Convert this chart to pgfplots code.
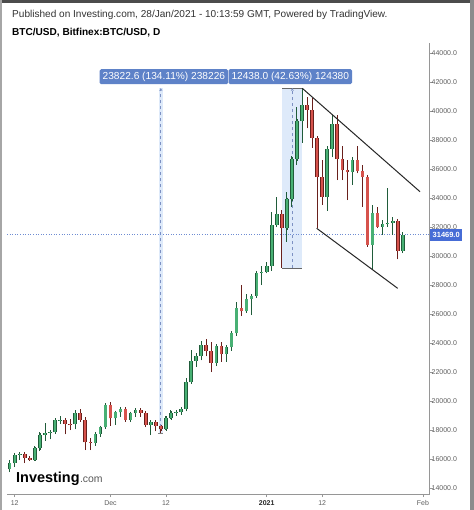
\documentclass[border=0pt]{standalone}
\usepackage{pgfplots}
\pgfplotsset{compat=1.18}
\usepackage{pgfplotstable}
\usepackage{fontspec}
\setmainfont{Liberation Sans}
\usetikzlibrary{arrows.meta}

\definecolor{gfill}{RGB}{72,176,116}
\definecolor{gline}{RGB}{32,92,58}
\definecolor{rfill}{RGB}{214,82,76}
\definecolor{rline}{RGB}{105,32,28}
\definecolor{boxblue}{RGB}{94,130,200}
\definecolor{pricecol}{RGB}{70,108,214}
\definecolor{pricedot}{RGB}{110,140,210}
\definecolor{measfill}{RGB}{222,234,250}
\definecolor{measline}{RGB}{125,145,195}
\definecolor{axcol}{RGB}{150,150,150}
\definecolor{labcol}{RGB}{95,95,95}
\definecolor{hdrcol}{RGB}{51,51,51}

\pgfplotstableread{
d o h l c
-1 15290 15960 15100 15700
0 15700 16350 15440 16300
1 16300 16480 15960 16330
4 15960 16880 15870 16730
5 16730 17860 16550 17660
6 17660 18480 17250 17800
7 17800 18000 17350 17840
8 17840 18800 17760 18680
9 18680 18960 18400 18710
12 18380 19400 18050 19150
16 17130 17880 16900 17730
17 17730 18300 17550 18180
18 18180 19860 18180 19700
20 18800 19300 18350 19220
21 19220 19580 18900 19450
23 18680 19170 18550 19150
24 19150 19420 18900 19370
27 18340 18630 17650 18560
30 18040 18950 18000 18810
31 18810 19400 18730 19160
32 19160 19350 19000 19240
33 19240 19570 19050 19450
34 19450 21560 19290 21300
35 21300 23500 21230 22780
36 22780 23290 22350 23100
37 23100 24170 22800 23860
40 22650 23840 22400 23800
42 23240 23790 22700 23720
43 23720 24780 23450 24680
44 24680 26860 24500 26400
46 26180 27400 26100 27020
47 27020 27400 25930 27250
48 27250 28990 27250 28850
49 28850 29300 28000 28930
50 28930 29600 28800 29310
51 29310 33060 29000 32140
52 32140 34090 32000 32900
54 31910 34400 30990 33910
55 33910 36900 33400 36690
56 36690 40300 36300 39310
57 39310 41586 37800 40380
62 34070 37600 33120 37380
63 37380 39750 36800 39100
67 35790 36800 34900 36620
71 30760 33520 29080 32990
73 32030 32480 31450 32190
74 32190 34670 32030 32260
75 32260 32670 31450 32430
77 30370 31680 30200 31469
}\greentab

\pgfplotstableread{
d o h l c
2 16330 16340 15720 16080
3 16080 16150 15860 15960
10 18710 18720 17700 18420
11 18420 18750 18000 18380
13 19150 19480 18580 18720
14 18720 18900 16620 17150
15 17150 17450 16620 17130
19 19700 19920 18300 18800
22 19450 19500 18600 18680
25 19370 19420 18900 19180
26 19180 19280 18200 18340
28 18560 18570 17900 18250
29 18250 18280 17763 18040
38 23860 24280 23070 23450
39 23450 24100 22000 22650
41 23800 24100 22700 23240
45 26400 28000 25850 26180
53 32900 33200 29180 31910
58 40380 41000 38800 40070
59 40070 40900 37450 38140
60 38140 38300 31910 35450
61 35450 36600 33520 34070
64 39100 39700 35240 36690
65 36690 37590 35240 35930
66 35930 36620 33860 35790
68 36620 37590 35700 35860
69 35860 36300 33400 35470
70 35470 35600 30700 30760
72 32990 33400 31900 32030
76 32430 32500 29770 30370
}\redtab

\begin{document}
\begin{tikzpicture}
\useasboundingbox (0bp,0bp) rectangle (474bp,-510bp);
\fill[white] (0bp,0bp) rectangle (474bp,-510bp);

\node[anchor=west, inner sep=0, text=hdrcol, font=\fontsize{10.1}{12}\selectfont] at (12bp,-15bp) {Published on Investing.com, 28/Jan/2021 - 10:13:59 GMT, Powered by TradingView.};
\node[anchor=west, inner sep=0, text=black, font=\fontsize{10.1}{12}\selectfont\bfseries] at (12bp,-32.5bp) {BTC/USD, Bitfinex:BTC/USD, D};

\begin{axis}[
  at={(7bp,-494bp)}, anchor=south west,
  scale only axis, width=423bp, height=451bp,
  xmin=-1.53, xmax=82.4, ymin=13586, ymax=44690,
  scaled x ticks=false, scaled y ticks=false,
  axis x line=bottom, axis y line=right,
  axis line style={-, draw=axcol, line width=1bp},
  tick align=outside, major tick length=3bp,
  tick style={draw=axcol, line width=0.8bp},
  xtick={0,19,30,50,61,81},
  xticklabels={12,Dec,12,{\textbf{\color{black!85}2021}},12,Feb},
  ytick={14000,16000,18000,20000,22000,24000,26000,28000,30000,32000,34000,36000,38000,40000,42000,44000},
  yticklabels={14000.0,16000.0,18000.0,20000.0,22000.0,24000.0,26000.0,28000.0,30000.0,32000.0,34000.0,36000.0,38000.0,40000.0,42000.0,44000.0},
  ticklabel style={font=\fontsize{7}{8}\selectfont, text=labcol},
  yticklabel style={xshift=-2.5bp, inner xsep=1bp},
  /pgf/number format/assume math mode=true,
  clip=false,
]
% measurement 2 shaded area
\addplot[fill=measfill, draw=none] coordinates {(53.1,29172) (57.06,29172) (57.06,41586) (53.1,41586)} -- cycle;
\addplot[draw=black!60, line width=0.8bp] coordinates {(53.1,29172) (57.06,29172)};
\addplot[draw=black!60, line width=0.8bp] coordinates {(53.1,41586) (57.06,41586)};
\addplot[draw=measline, line width=0.9bp, dash pattern=on 3bp off 3bp, -{Stealth[length=3bp,width=3bp]}] coordinates {(55.08,29172) (55.08,41586)};
% measurement 1
\addplot[draw=measfill, line width=4bp] coordinates {(29,17763) (29,41586)};
\addplot[draw=measline, line width=0.9bp, dash pattern=on 3bp off 3bp, -{Stealth[length=3bp,width=3bp]}] coordinates {(29,17763) (29,41586)};
\addplot[draw=black!50, line width=0.6bp] coordinates {(28.5,17763) (29.5,17763)};

% price line
\addplot[draw=pricedot, line width=0.6bp, dash pattern=on 1bp off 1.6bp] coordinates {(-1.53,31469) (82.4,31469)};

% wicks
\addplot[draw=none, mark=none, error bars/.cd, y dir=plus, y explicit, error mark=none,
  error bar style={line width=0.9bp, draw=gline}]
  table[x=d, y=l, y error expr=\thisrow{h}-\thisrow{l}] {\greentab};
\addplot[draw=none, mark=none, error bars/.cd, y dir=plus, y explicit, error mark=none,
  error bar style={line width=0.9bp, draw=rline}]
  table[x=d, y=l, y error expr=\thisrow{h}-\thisrow{l}] {\redtab};
% bodies outer
\addplot[draw=none, mark=none, error bars/.cd, y dir=both, y explicit, error mark=-,
  error mark options={line width=0.7bp, draw=gline, mark size=1.8bp},
  error bar style={line width=3.6bp, draw=gline}]
  table[x=d, y=o, y error plus expr=\thisrow{c}-\thisrow{o}, y error minus expr=0] {\greentab};
\addplot[draw=none, mark=none, error bars/.cd, y dir=both, y explicit, error mark=-,
  error mark options={line width=0.7bp, draw=rline, mark size=1.8bp},
  error bar style={line width=3.6bp, draw=rline}]
  table[x=d, y=c, y error plus expr=\thisrow{o}-\thisrow{c}, y error minus expr=0] {\redtab};
% bodies inner
\addplot[draw=none, mark=none, error bars/.cd, y dir=plus, y explicit, error mark=none,
  error bar style={line width=2.2bp, draw=gfill}]
  table[x=d, y=o, y error expr=\thisrow{c}-\thisrow{o}] {\greentab};
\addplot[draw=none, mark=none, error bars/.cd, y dir=plus, y explicit, error mark=none,
  error bar style={line width=2.2bp, draw=rfill}]
  table[x=d, y=c, y error expr=\thisrow{o}-\thisrow{c}] {\redtab};

% channel lines
\addplot[draw=black!85, line width=1bp] coordinates {(57.06,41566) (80.42,34434)};
\addplot[draw=black!85, line width=1bp] coordinates {(59.92,31910) (75.99,27770)};

% labels
\node[anchor=east, fill=boxblue, text=white, inner xsep=3bp, inner ysep=0, minimum height=15bp, rounded corners=1.5bp, font=\fontsize{10.2}{11}\selectfont] at (axis cs:42.38,42366) {23822.6 (134.11\%) 238226};
\node[anchor=west, fill=boxblue, text=white, inner xsep=3bp, inner ysep=0, minimum height=15bp, rounded corners=1.5bp, font=\fontsize{10.2}{11}\selectfont] at (axis cs:42.38,42366) {12438.0 (42.63\%) 124380};
\node[anchor=west, fill=pricecol, text=white, inner xsep=2.5bp, inner ysep=0, minimum height=12bp, font=\fontsize{7.5}{8}\selectfont\bfseries] at (axis cs:82.4,31469) {31469.0};
\end{axis}

% logo
\node[anchor=base west, inner sep=0, font=\fontsize{14.5}{16}\selectfont\bfseries, text=black] (inv) at (16bp,-482.5bp) {Investing};
\node[anchor=base west, inner sep=0, font=\fontsize{10.5}{12}\selectfont, text=black!65] at (inv.base east) {.com};

% frame
\fill[black!70] (0bp,0bp) rectangle (474bp,-2.5bp);
\fill[black!35] (0bp,0bp) rectangle (2bp,-510bp);
\fill[black!45] (470bp,0bp) rectangle (474bp,-510bp);
\end{tikzpicture}
\end{document}
